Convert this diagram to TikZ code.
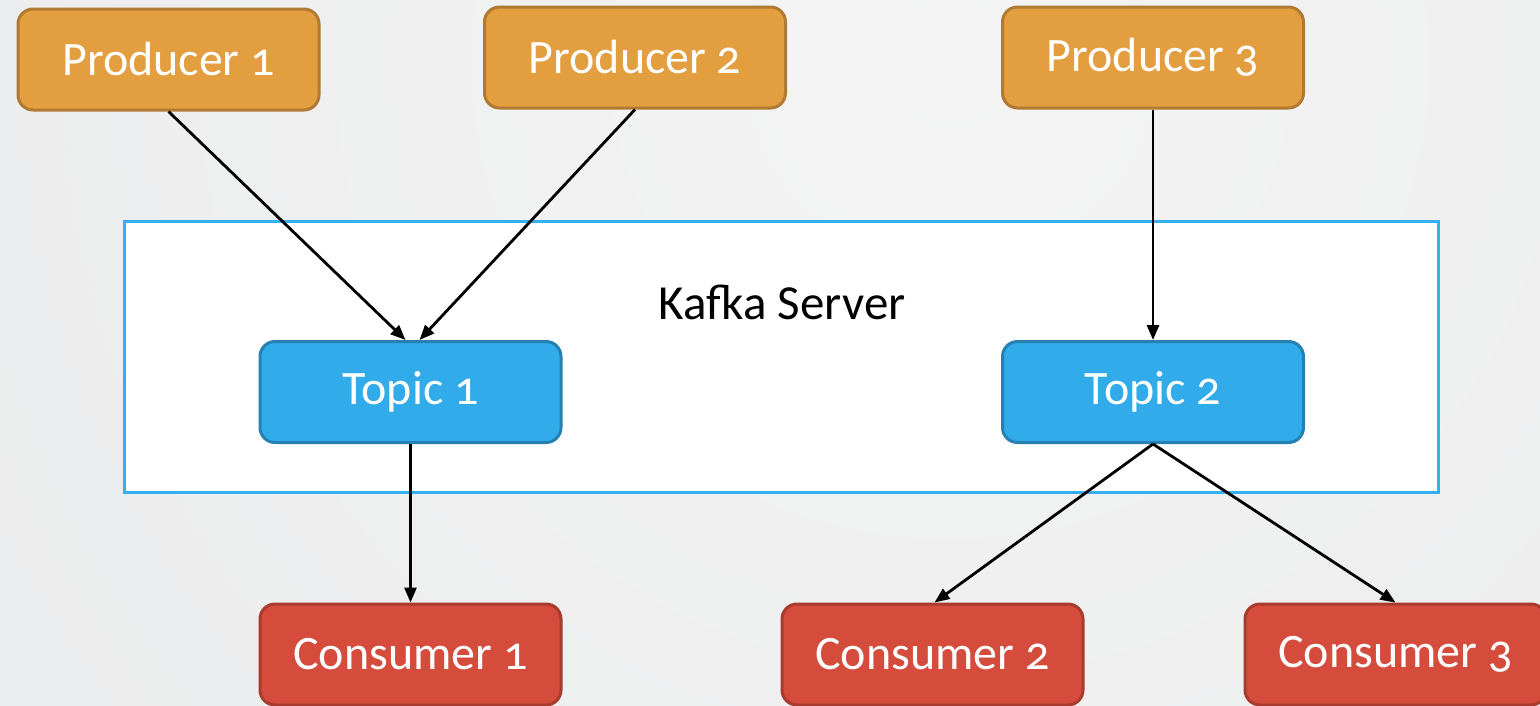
\documentclass[tikz,border=0pt]{standalone}
\usepackage{fontspec}
\setmainfont[Numbers=OldStyle]{Carlito}
\usetikzlibrary{arrows.meta}
\definecolor{bgin}{HTML}{F4F4F4}
\definecolor{bgout}{HTML}{DFE1E3}
\definecolor{prodfill}{HTML}{E29E3F}
\definecolor{proddraw}{HTML}{B07A32}
\definecolor{topfill}{HTML}{31ABEA}
\definecolor{topdraw}{HTML}{2680B2}
\definecolor{consfill}{HTML}{D64C3C}
\definecolor{consdraw}{HTML}{A83A2E}
\definecolor{kafkadraw}{HTML}{33B0F0}
\tikzset{
  box/.style={rounded corners=15pt, line width=3pt, minimum width=301pt, minimum height=101pt,
    text=white, font=\fontsize{48}{57}\selectfont, inner sep=0pt},
  prod/.style={box, fill=prodfill, draw=proddraw},
  topic/.style={box, fill=topfill, draw=topdraw},
  cons/.style={box, fill=consfill, draw=consdraw},
  conn/.style={line width=2.8pt, -{Triangle[length=15pt,width=12pt]}}
}
\begin{document}
\begin{tikzpicture}[x=1pt,y=-1pt]
\useasboundingbox (0,0) rectangle (1540,705);
\begin{scope}
\clip (0,0) rectangle (1540,705);
\shade[inner color=bgin, outer color=bgout] (950,60) circle (2600);
\end{scope}
\node[draw=kafkadraw, fill=white, line width=3pt, minimum width=1314pt, minimum height=271pt, inner sep=0pt] (ks) at (781.5,357) {};
\node[font=\fontsize{49}{58}\selectfont, text=black] (kst) at (782,302) {Kafka Server};
\node[prod] (p1) at (168.5,59.5) {Producer 1};
\node[prod] (p2) at (635,57.5) {Producer 2};
\node[prod] (p3) at (1153,57.5) {Producer 3};
\node[topic] (t1) at (410.5,392) {Topic 1};
\node[topic] (t2) at (1153,392) {Topic 2};
\node[cons] (c1) at (410.5,654.5) {Consumer 1};
\node[cons] (c2) at (932.5,654.5) {Consumer 2};
\node[cons] (c3) at (1395.5,654.5) {Consumer 3};
\draw[conn] (p1.south) -- ([xshift=-5pt]t1.north);
\draw[conn] (p2.south) -- ([xshift=9pt]t1.north);
\draw[conn] (p3.south) -- (t2.north);
\draw[conn] (t1.south) -- (c1.north);
\draw[conn] (t2.south) -- ([xshift=2pt]c2.north);
\draw[conn] (t2.south) -- (c3.north);
\end{tikzpicture}
\end{document}
